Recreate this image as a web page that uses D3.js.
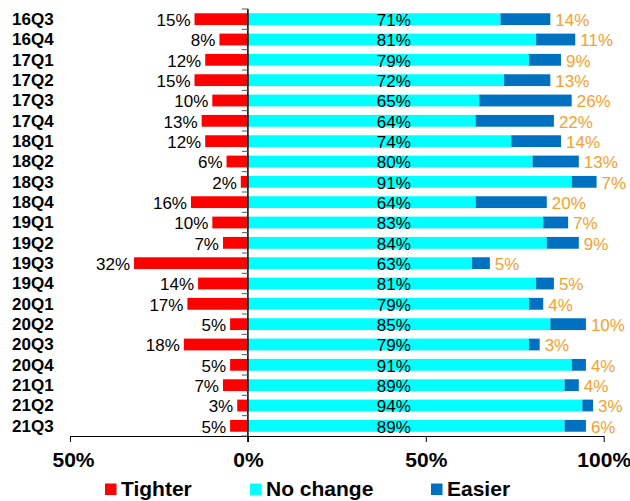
<!DOCTYPE html>
<html>
<head>
<meta charset="utf-8">
<script src="https://cdn.jsdelivr.net/npm/d3@7/dist/d3.min.js"></script>
<style>
  html, body { margin: 0; padding: 0; background: #fff; }
  svg { display: block; font-family: "Liberation Sans", Arial, sans-serif; }
</style>
</head>
<body>
<svg id="chart" width="630" height="501"></svg>
<script>
const categories = ["16Q3","16Q4","17Q1","17Q2","17Q3","17Q4","18Q1","18Q2","18Q3","18Q4",
  "19Q1","19Q2","19Q3","19Q4","20Q1","20Q2","20Q3","20Q4","21Q1","21Q2","21Q3"];
const tighter  = [15, 8,12,15,10,13,12, 6, 2,16,10, 7,32,14,17, 5,18, 5, 7, 3, 5];
const noChange = [71,81,79,72,65,64,74,80,91,64,83,84,63,81,79,85,79,91,89,94,89];
const easier   = [14,11, 9,13,26,22,14,13, 7,20, 7, 9, 5, 5, 4,10, 3, 4, 4, 3, 6];
const xTicks = [-50, 0, 50, 100];
const seriesNames = ["Tighter", "No change", "Easier"];
const seriesColors = ["#FF0000", "#00FFFF", "#0070C0"];
const labelColor = "#F9A02B";
const noChangeLabelPos = 41;

const svg = d3.select("#chart");
const x = d3.scaleLinear().domain([-50, 100]).range([70, 603.7]);
const y = d3.scaleBand().domain(categories).range([9, 436]).paddingInner(0.42).paddingOuter(0.21);
const step = y.step();
const plotTop = 9;

const rows = categories.map((c, i) => ({ c, t: tighter[i], n: noChange[i], e: easier[i] }));

// bars
const g = svg.append("g");
g.selectAll("rect.t").data(rows).join("rect")
  .attr("x", d => x(-d.t)).attr("y", d => y(d.c))
  .attr("width", d => x(0) - x(-d.t)).attr("height", y.bandwidth())
  .attr("fill", seriesColors[0]);
g.selectAll("rect.n").data(rows).join("rect")
  .attr("x", d => x(0)).attr("y", d => y(d.c))
  .attr("width", d => x(d.n) - x(0)).attr("height", y.bandwidth())
  .attr("fill", seriesColors[1]);
g.selectAll("rect.e").data(rows).join("rect")
  .attr("x", d => x(d.n)).attr("y", d => y(d.c))
  .attr("width", d => x(d.n + d.e) - x(d.n)).attr("height", y.bandwidth())
  .attr("fill", seriesColors[2]);

// data labels
const cy = d => y(d.c) + y.bandwidth() / 2 + 1;
g.selectAll("text.t").data(rows).join("text")
  .attr("x", d => x(-d.t) - 4).attr("y", cy).attr("dy", "0.35em")
  .attr("text-anchor", "end").attr("font-size", 17).attr("fill", "#000")
  .text(d => d.t + "%");
g.selectAll("text.n").data(rows).join("text")
  .attr("x", x(noChangeLabelPos)).attr("y", cy).attr("dy", "0.35em")
  .attr("text-anchor", "middle").attr("font-size", 17).attr("fill", "#000")
  .text(d => d.n + "%");
g.selectAll("text.e").data(rows).join("text")
  .attr("x", d => x(d.n + d.e) + 5).attr("y", cy).attr("dy", "0.35em")
  .attr("text-anchor", "start").attr("font-size", 17).attr("fill", labelColor)
  .text(d => d.e + "%");

// category labels
g.selectAll("text.c").data(rows).join("text")
  .attr("x", 12).attr("y", d => y(d.c) + y.bandwidth() / 2)
  .attr("dy", "0.35em").attr("font-size", 17).attr("font-weight", "bold")
  .attr("fill", "#000").text(d => d.c);

// bottom axis
const xAxis = d3.axisBottom(x).tickValues(xTicks).tickSize(6).tickSizeOuter(0)
  .tickPadding(10).tickFormat(d => Math.abs(d) + "%");
const ax = svg.append("g").attr("transform", `translate(0,436)`).call(xAxis);
ax.select(".domain").attr("stroke", "#000");
ax.selectAll(".tick line").attr("stroke", "#000");
ax.selectAll(".tick text").attr("font-size", 21).attr("font-weight", "bold")
  .attr("fill", "#000").attr("font-family", "'Liberation Sans', Arial, sans-serif")
  .attr("dx", d => d < 0 ? 3 : 0);

// vertical axis at zero with ticks at band boundaries
svg.append("line").attr("x1", x(0)).attr("x2", x(0)).attr("y1", plotTop).attr("y2", 442)
  .attr("stroke", "#000").attr("stroke-width", 1.5);
svg.append("g").selectAll("line").data(d3.range(categories.length + 1)).join("line")
  .attr("x1", x(0) - 6).attr("x2", x(0)).attr("y1", i => plotTop + i * step).attr("y2", i => plotTop + i * step)
  .attr("stroke", "#555").attr("stroke-width", 1);

// legend
const legendX = [105, 250, 431];
const lg = svg.append("g");
seriesNames.forEach((name, i) => {
  lg.append("rect").attr("x", legendX[i]).attr("y", 483.5).attr("width", 11.5).attr("height", 11.5)
    .attr("fill", seriesColors[i]);
  lg.append("text").attr("x", legendX[i] + 16).attr("y", 495.5)
    .attr("font-size", 21).attr("font-weight", "bold").attr("fill", "#000").text(name);
});
</script>
</body>
</html>
